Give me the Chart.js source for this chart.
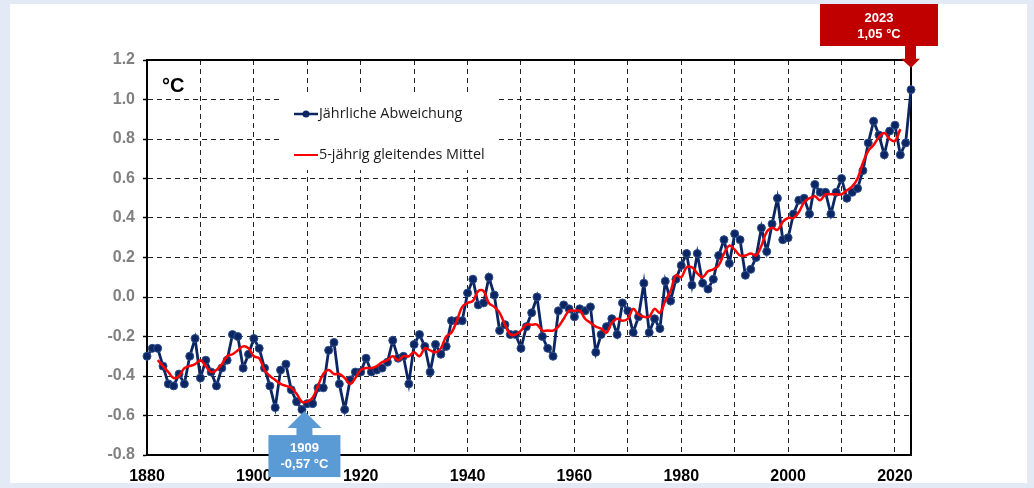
<!DOCTYPE html>
<html>
<head>
<meta charset="utf-8">
<script src="https://cdn.jsdelivr.net/npm/chart.js@4.4.1/dist/chart.umd.min.js"></script>
<style>
  html, body { margin: 0; padding: 0; background: #e3eaf6; }
  #panel { position: absolute; left: 10px; top: 4px; width: 1017px; height: 479px; background: #fff; }
  #wrap { position: absolute; left: 0; top: 0; width: 1034px; height: 488px; }
</style>
</head>
<body>
<div id="panel"></div>
<div id="wrap"><canvas id="myChart"></canvas></div>
<script>
// Jahre 1880 - 2023
const years = [
  1880, 1881, 1882, 1883, 1884, 1885, 1886, 1887, 1888, 1889,
  1890, 1891, 1892, 1893, 1894, 1895, 1896, 1897, 1898, 1899,
  1900, 1901, 1902, 1903, 1904, 1905, 1906, 1907, 1908, 1909,
  1910, 1911, 1912, 1913, 1914, 1915, 1916, 1917, 1918, 1919,
  1920, 1921, 1922, 1923, 1924, 1925, 1926, 1927, 1928, 1929,
  1930, 1931, 1932, 1933, 1934, 1935, 1936, 1937, 1938, 1939,
  1940, 1941, 1942, 1943, 1944, 1945, 1946, 1947, 1948, 1949,
  1950, 1951, 1952, 1953, 1954, 1955, 1956, 1957, 1958, 1959,
  1960, 1961, 1962, 1963, 1964, 1965, 1966, 1967, 1968, 1969,
  1970, 1971, 1972, 1973, 1974, 1975, 1976, 1977, 1978, 1979,
  1980, 1981, 1982, 1983, 1984, 1985, 1986, 1987, 1988, 1989,
  1990, 1991, 1992, 1993, 1994, 1995, 1996, 1997, 1998, 1999,
  2000, 2001, 2002, 2003, 2004, 2005, 2006, 2007, 2008, 2009,
  2010, 2011, 2012, 2013, 2014, 2015, 2016, 2017, 2018, 2019,
  2020, 2021, 2022, 2023
];

// Jährliche Abweichung (°C)
const annual = [
  -0.30, -0.26, -0.26, -0.35, -0.44, -0.45, -0.39, -0.44, -0.30, -0.21,
  -0.41, -0.32, -0.38, -0.45, -0.36, -0.32, -0.19, -0.20, -0.36, -0.29,
  -0.21, -0.26, -0.36, -0.45, -0.56, -0.37, -0.34, -0.47, -0.53, -0.57,
  -0.54, -0.54, -0.46, -0.46, -0.27, -0.23, -0.44, -0.57, -0.42, -0.38,
  -0.38, -0.31, -0.38, -0.37, -0.36, -0.33, -0.22, -0.31, -0.30, -0.44,
  -0.24, -0.19, -0.25, -0.38, -0.24, -0.29, -0.25, -0.12, -0.12, -0.12,
   0.02,  0.09, -0.04, -0.03,  0.10,  0.01, -0.17, -0.14, -0.19, -0.19,
  -0.26, -0.15, -0.08,  0.00, -0.20, -0.26, -0.30, -0.07, -0.04, -0.06,
  -0.10, -0.06, -0.07, -0.05, -0.28, -0.19, -0.15, -0.11, -0.19, -0.03,
  -0.07, -0.18, -0.10,  0.07, -0.18, -0.11, -0.16,  0.08, -0.02,  0.09,
   0.16,  0.22,  0.06,  0.22,  0.07,  0.04,  0.09,  0.21,  0.29,  0.17,
   0.32,  0.29,  0.11,  0.14,  0.20,  0.35,  0.23,  0.37,  0.50,  0.29,
   0.30,  0.42,  0.49,  0.50,  0.42,  0.57,  0.53,  0.53,  0.42,  0.53,
   0.60,  0.50,  0.53,  0.55,  0.64,  0.78,  0.89,  0.82,  0.72,  0.84,
   0.87,  0.72,  0.78,  1.05
];

// 5-jährig gleitendes Mittel, 1882 - 2021
const maYears = years.slice(2, 142);
const movingAvg = [
  -0.32, -0.35, -0.38, -0.41, -0.40, -0.36, -0.35, -0.34,
  -0.32, -0.35, -0.38, -0.37, -0.34, -0.30, -0.29, -0.27, -0.25, -0.26,
  -0.30, -0.31, -0.37, -0.40, -0.42, -0.44, -0.45, -0.46, -0.49, -0.53,
  -0.53, -0.51, -0.45, -0.39, -0.37, -0.39, -0.39, -0.41, -0.44, -0.41,
  -0.37, -0.36, -0.36, -0.35, -0.33, -0.32, -0.30, -0.32, -0.30, -0.30,
  -0.28, -0.30, -0.26, -0.27, -0.28, -0.26, -0.20, -0.18, -0.12, -0.05,
  -0.03, -0.02,  0.03,  0.03, -0.03, -0.05, -0.08, -0.14, -0.19, -0.19,
  -0.17, -0.14, -0.14, -0.14, -0.17, -0.17, -0.17, -0.15, -0.11, -0.07,
  -0.07, -0.07, -0.11, -0.13, -0.15, -0.16, -0.18, -0.13, -0.11, -0.12,
  -0.11, -0.06, -0.09, -0.10, -0.10, -0.06, -0.08, -0.02,  0.03,  0.11,
   0.10,  0.15,  0.15,  0.12,  0.10,  0.13,  0.14,  0.16,  0.22,  0.26,
   0.24,  0.21,  0.21,  0.22,  0.21,  0.26,  0.33,  0.35,  0.34,  0.38,
   0.40,  0.40,  0.43,  0.48,  0.50,  0.51,  0.49,  0.52,  0.52,  0.52,
   0.52,  0.54,  0.56,  0.60,  0.68,  0.74,  0.77,  0.81,  0.83,  0.80,
   0.79,  0.85
];

const seriesNames = ['Jährliche Abweichung', '5-jährig gleitendes Mittel'];
const unitLabel = '°C';

// Markierungen
const maxYear = 2023, maxValue = 1.05, maxText = ['2023', '1,05 °C'];
const minYear = 1909, minValue = -0.57, minText = ['1909', '-0,57 °C'];

const navy = '#0b2662';
const red = '#ff0000';

Chart.defaults.font.family = '"Liberation Sans", Arial, sans-serif';

const extras = {
  id: 'extras',
  beforeDatasetsDraw(chart) {
    const ctx = chart.ctx;
    const a = chart.chartArea;
    ctx.save();
    // Rahmen
    ctx.strokeStyle = '#000';
    ctx.lineWidth = 2;
    ctx.strokeRect(a.left, a.top, a.right - a.left, a.bottom - a.top);

    // Legende
    ctx.fillStyle = '#fff';
    ctx.fillRect(279, 94, 218, 76);
    ctx.lineWidth = 2.5;
    ctx.strokeStyle = navy;
    ctx.beginPath(); ctx.moveTo(294, 114); ctx.lineTo(318, 114); ctx.stroke();
    ctx.fillStyle = navy;
    ctx.beginPath(); ctx.arc(306, 114, 3.5, 0, Math.PI * 2); ctx.fill();
    ctx.strokeStyle = red;
    ctx.lineWidth = 2;
    ctx.beginPath(); ctx.moveTo(294, 155); ctx.lineTo(318, 155); ctx.stroke();
    ctx.fillStyle = '#1a1a1a';
    ctx.font = '14.4px "Open Sans", sans-serif';
    ctx.textBaseline = 'middle';
    ctx.textAlign = 'left';
    ctx.fillText(seriesNames[0], 319, 114);
    ctx.fillText(seriesNames[1], 319, 155);

    // Einheit
    ctx.fillStyle = '#000';
    ctx.font = 'bold 20px "Liberation Sans", Arial, sans-serif';
    ctx.fillText(unitLabel, 162, 86);
    ctx.restore();
  },
  afterDraw(chart) {
    const ctx = chart.ctx;
    const xs = chart.scales.x;
    const ys = chart.scales.y;
    ctx.save();
    ctx.textAlign = 'center';
    ctx.textBaseline = 'middle';
    ctx.font = 'bold 13px "Liberation Sans", Arial, sans-serif';

    // 2023 - rot, Pfeil nach unten
    let px = xs.getPixelForValue(maxYear);
    let py = ys.getPixelForValue(maxValue);
    let tip = py - 22;
    ctx.fillStyle = '#c00000';
    ctx.fillRect(px - 91, 4, 118, 42);
    ctx.fillRect(px - 6, 45, 11, tip - 9 - 45 + 1);
    ctx.beginPath();
    ctx.moveTo(px - 10, tip - 9); ctx.lineTo(px + 9, tip - 9); ctx.lineTo(px, tip);
    ctx.closePath(); ctx.fill();
    ctx.fillStyle = '#fff';
    ctx.fillText(maxText[0], px - 32, 18);
    ctx.fillText(maxText[1], px - 32, 34);

    // 1909 - blau, Pfeil nach oben
    px = xs.getPixelForValue(minYear) + 2.5;
    py = ys.getPixelForValue(minValue);
    tip = py + 1.5;
    ctx.fillStyle = '#5b9bd5';
    ctx.beginPath();
    ctx.moveTo(px, tip); ctx.lineTo(px + 17, tip + 17); ctx.lineTo(px - 17, tip + 17);
    ctx.closePath(); ctx.fill();
    ctx.fillRect(px - 8, tip + 16, 16, 9);
    ctx.fillRect(px - 36, tip + 24, 72, 42);
    ctx.fillStyle = '#fff';
    ctx.fillText(minText[0], px, tip + 37);
    ctx.fillText(minText[1], px, tip + 53);
    ctx.restore();
  }
};

window.addEventListener('DOMContentLoaded', () => {
  const ctx = document.getElementById('myChart').getContext('2d');
  new Chart(ctx, {
    type: 'line',
    data: {
      datasets: [
        {
          label: seriesNames[0],
          data: years.map((yr, i) => ({ x: yr, y: annual[i] })),
          borderColor: navy,
          borderWidth: 2.8,
          pointRadius: 4,
          pointBackgroundColor: navy,
          pointBorderColor: '#2f4f8c',
          pointBorderWidth: 1,
          tension: 0,
          clip: false,
          order: 1
        },
        {
          label: seriesNames[1],
          data: maYears.map((yr, i) => ({ x: yr, y: movingAvg[i] })),
          borderColor: red,
          borderWidth: 2.5,
          pointRadius: 0,
          tension: 0.4,
          clip: false,
          order: 0
        }
      ]
    },
    options: {
      responsive: true,
      maintainAspectRatio: false,
      animation: false,
      events: [],
      layout: { padding: { left: 0, top: 60, right: 123, bottom: 0 } },
      plugins: {
        legend: { display: false },
        tooltip: { enabled: false }
      },
      scales: {
        x: {
          type: 'linear',
          min: 1880,
          max: 2023,
          afterFit: s => { s.height = 33; },
          ticks: {
            stepSize: 10,
            includeBounds: false,
            autoSkip: false,
            maxRotation: 0,
            padding: 12,
            color: '#000',
            font: { size: 16, weight: 'bold' },
            callback: v => (v % 20 === 0 ? String(v) : '')
          },
          grid: { color: '#222', lineWidth: 1, drawTicks: false },
          border: { color: '#000', width: 2, dash: [5, 4] }
        },
        y: {
          min: -0.8,
          max: 1.2,
          afterFit: s => { s.width = 147; },
          ticks: {
            stepSize: 0.2,
            padding: 8,
            color: '#808080',
            font: { size: 16, weight: 'bold' },
            callback: v => (Math.round(v * 10) / 10).toFixed(1)
          },
          grid: { color: '#222', lineWidth: 1, tickLength: 4, tickColor: '#000', tickWidth: 1.5 },
          border: { color: '#000', width: 2, dash: [5, 4] }
        }
      }
    },
    plugins: [extras]
  });
});
</script>
</body>
</html>
